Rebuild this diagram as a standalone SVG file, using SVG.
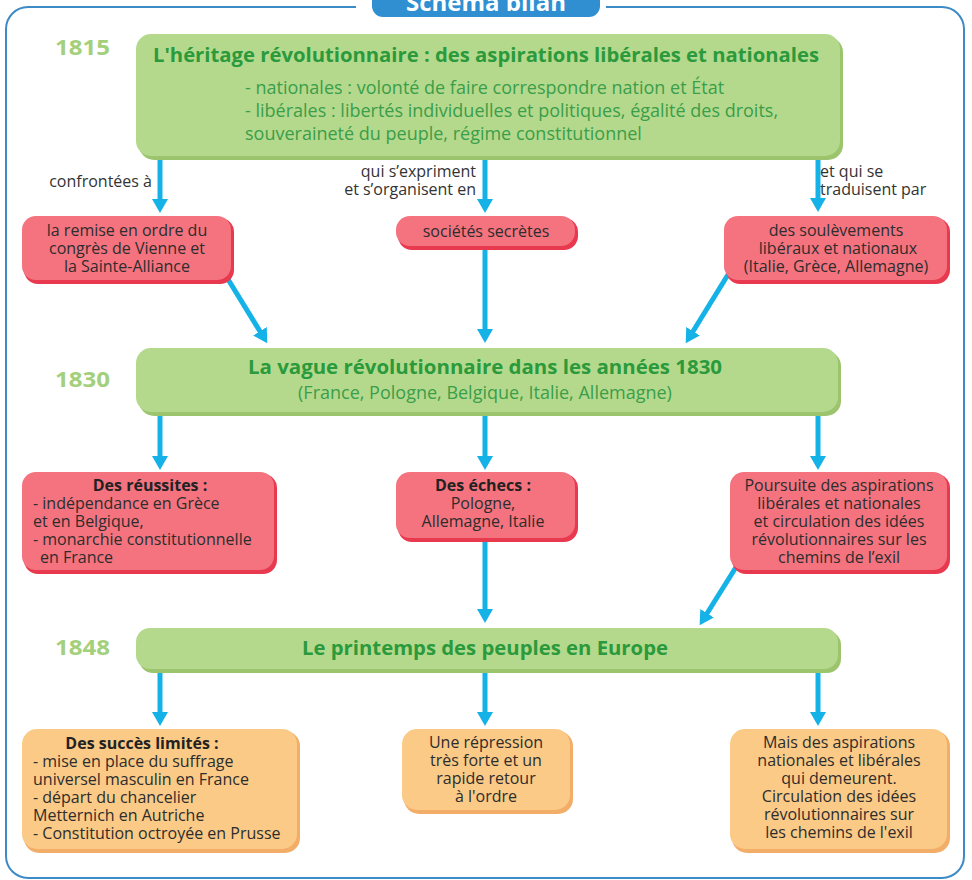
<svg xmlns="http://www.w3.org/2000/svg" width="972" height="880" viewBox="0 0 972 880">
<defs>
<style>
text{font-family:"Open Sans",Lato,"Liberation Sans",sans-serif;}
.year{font-size:21px;font-weight:bold;fill:#a3d07a;}
.gtitle{font-size:20px;font-weight:bold;fill:#2a9a3c;text-anchor:middle;}
.gbody{font-size:18px;fill:#3a9e4a;}
.lbl{font-size:16px;fill:#333;}
.bt{font-size:16px;fill:#2d2d2d;}
.bb{font-size:16px;fill:#222;font-weight:bold;}
.c{text-anchor:middle;}
.gsh{fill:#9cc46c;}
.gbox{fill:#b4d98c;}
.rsh{fill:#e8394f;}
.rbox{fill:#f4737f;}
.osh{fill:#f2ad68;}
.obox{fill:#fbca86;}
.arr{stroke:#14b2e6;stroke-width:5;fill:none;marker-end:url(#ah);}
</style>
<marker id="ah" viewBox="0 0 14 16" refX="2" refY="8" markerWidth="14" markerHeight="16" markerUnits="userSpaceOnUse" orient="auto">
<path d="M0,0 L14,8 L0,16 z" fill="#14b2e6"/>
</marker>
</defs>
<rect width="972" height="880" fill="#ffffff"/>
<g id="frame">
<rect x="6" y="7" width="958" height="871" rx="22" fill="none" stroke="#3d8bc6" stroke-width="2"/>
<rect x="356" y="0" width="250" height="14" fill="#ffffff"/>
<rect x="372" y="-14" width="228" height="31" rx="11" fill="#2f8fd1"/>
<text x="486" y="11" class="c" style="font-size:24px;font-weight:bold;fill:#ffffff;">Schéma bilan</text>
</g>
<g id="years">
<text x="55" y="55" class="year" textLength="55" lengthAdjust="spacingAndGlyphs">1815</text>
<text x="55" y="387" class="year" textLength="55" lengthAdjust="spacingAndGlyphs">1830</text>
<text x="55" y="655" class="year" textLength="55" lengthAdjust="spacingAndGlyphs">1848</text>
</g>
<g id="connectors">
<line class="arr" x1="160" y1="157" x2="160" y2="201"/>
<line class="arr" x1="485" y1="157" x2="485" y2="201"/>
<line class="arr" x1="818" y1="157" x2="818" y2="200"/>
<line class="arr" x1="226" y1="276" x2="261" y2="333"/>
<line class="arr" x1="485" y1="248" x2="485" y2="331"/>
<line class="arr" x1="729" y1="273" x2="692" y2="333"/>
<line class="arr" x1="160" y1="413" x2="160" y2="458"/>
<line class="arr" x1="485" y1="413" x2="485" y2="458"/>
<line class="arr" x1="818" y1="413" x2="818" y2="458"/>
<line class="arr" x1="485" y1="540" x2="485" y2="611"/>
<line class="arr" x1="738" y1="564" x2="706" y2="615"/>
<line class="arr" x1="160" y1="670" x2="160" y2="714"/>
<line class="arr" x1="485" y1="670" x2="485" y2="714"/>
<line class="arr" x1="818" y1="670" x2="818" y2="714"/>
</g>
<g id="labels">
<text x="152" y="187" class="lbl" text-anchor="end">confrontées à</text>
<text x="476" y="177" class="lbl" text-anchor="end">qui s’expriment</text>
<text x="476" y="195" class="lbl" text-anchor="end">et s’organisent en</text>
<text x="820" y="177" class="lbl">et qui se</text>
<text x="820" y="195" class="lbl">traduisent par</text>
</g>
<g id="n1815">
<rect x="139" y="37" width="704" height="123" rx="15" class="gsh"/>
<rect x="136" y="34" width="704" height="122" rx="15" class="gbox"/>
<text x="486" y="62" class="gtitle" textLength="666" lengthAdjust="spacingAndGlyphs">L'héritage révolutionnaire : des aspirations libérales et nationales</text>
<text x="245" y="94" class="gbody">- nationales : volonté de faire correspondre nation et État</text>
<text x="245" y="117" class="gbody">- libérales : libertés individuelles et politiques, égalité des droits,</text>
<text x="245" y="140" class="gbody">souveraineté du peuple, régime constitutionnel</text>
</g>
<g id="nVienne">
<rect x="24" y="218" width="210" height="66" rx="14" class="rsh"/>
<rect x="22" y="216" width="209" height="64" rx="14" class="rbox"/>
<text x="127" y="236" class="bt c">la remise en ordre du</text>
<text x="127" y="254" class="bt c">congrès de Vienne et</text>
<text x="127" y="272" class="bt c">la Sainte-Alliance</text>
</g>
<g id="nSocietes">
<rect x="398" y="218" width="180" height="32" rx="14" class="rsh"/>
<rect x="396" y="216" width="179" height="30" rx="14" class="rbox"/>
<text x="486" y="237" class="bt c">sociétés secrètes</text>
</g>
<g id="nSoulevements">
<rect x="726" y="218" width="224" height="66" rx="14" class="rsh"/>
<rect x="724" y="216" width="223" height="64" rx="14" class="rbox"/>
<text x="836" y="236" class="bt c">des soulèvements</text>
<text x="838" y="254" class="bt c">libéraux et nationaux</text>
<text x="836" y="272" class="bt c">(Italie, Grèce, Allemagne)</text>
</g>
<g id="n1830">
<rect x="139" y="351" width="702" height="65" rx="15" class="gsh"/>
<rect x="136" y="348" width="702" height="64" rx="15" class="gbox"/>
<text x="485" y="374" class="gtitle" textLength="474" lengthAdjust="spacingAndGlyphs">La vague révolutionnaire dans les années 1830</text>
<text x="485" y="399" class="gbody c">(France, Pologne, Belgique, Italie, Allemagne)</text>
</g>
<g id="nReussites">
<rect x="24" y="474" width="253" height="100" rx="14" class="rsh"/>
<rect x="22" y="472" width="252" height="98" rx="14" class="rbox"/>
<text x="150" y="491" class="bb c">Des réussites :</text>
<text x="33" y="509" class="bt">- indépendance en Grèce</text>
<text x="33" y="527" class="bt">et en Belgique,</text>
<text x="33" y="545" class="bt">- monarchie constitutionnelle</text>
<text x="40" y="563" class="bt">en France</text>
</g>
<g id="nEchecs">
<rect x="398" y="474" width="180" height="68" rx="14" class="rsh"/>
<rect x="396" y="472" width="179" height="66" rx="14" class="rbox"/>
<text x="483" y="491" class="bb c">Des échecs :</text>
<text x="483" y="509" class="bt c">Pologne,</text>
<text x="483" y="527" class="bt c">Allemagne, Italie</text>
</g>
<g id="nPoursuite">
<rect x="732" y="474" width="218" height="100" rx="14" class="rsh"/>
<rect x="730" y="472" width="217" height="98" rx="14" class="rbox"/>
<text x="839" y="491" class="bt c">Poursuite des aspirations</text>
<text x="839" y="509" class="bt c">libérales et nationales</text>
<text x="839" y="527" class="bt c">et circulation des idées</text>
<text x="839" y="545" class="bt c">révolutionnaires sur les</text>
<text x="839" y="563" class="bt c">chemins de l’exil</text>
</g>
<g id="n1848">
<rect x="139" y="631" width="702" height="42" rx="14" class="gsh"/>
<rect x="136" y="628" width="702" height="41" rx="14" class="gbox"/>
<text x="485" y="655" class="gtitle" textLength="366" lengthAdjust="spacingAndGlyphs">Le printemps des peuples en Europe</text>
</g>
<g id="nSucces">
<rect x="24" y="731" width="276" height="122" rx="15" class="osh"/>
<rect x="22" y="729" width="275" height="120" rx="15" class="obox"/>
<text x="142" y="749" class="bb c">Des succès limités :</text>
<text x="33" y="767" class="bt">- mise en place du suffrage</text>
<text x="33" y="785" class="bt">universel masculin en France</text>
<text x="33" y="803" class="bt">- départ du chancelier</text>
<text x="33" y="821" class="bt">Metternich en Autriche</text>
<text x="33" y="839" class="bt">- Constitution octroyée en Prusse</text>
</g>
<g id="nRepression">
<rect x="404" y="731" width="169" height="83" rx="15" class="osh"/>
<rect x="402" y="729" width="168" height="81" rx="15" class="obox"/>
<text x="486" y="748" class="bt c">Une répression</text>
<text x="486" y="766" class="bt c">très forte et un</text>
<text x="486" y="784" class="bt c">rapide retour</text>
<text x="486" y="802" class="bt c">à l'ordre</text>
</g>
<g id="nMais">
<rect x="732" y="731" width="218" height="122" rx="15" class="osh"/>
<rect x="730" y="729" width="217" height="120" rx="15" class="obox"/>
<text x="839" y="748" class="bt c">Mais des aspirations</text>
<text x="839" y="766" class="bt c">nationales et libérales</text>
<text x="839" y="784" class="bt c">qui demeurent.</text>
<text x="839" y="802" class="bt c">Circulation des idées</text>
<text x="839" y="820" class="bt c">révolutionnaires sur</text>
<text x="839" y="838" class="bt c">les chemins de l'exil</text>
</g>
</svg>
